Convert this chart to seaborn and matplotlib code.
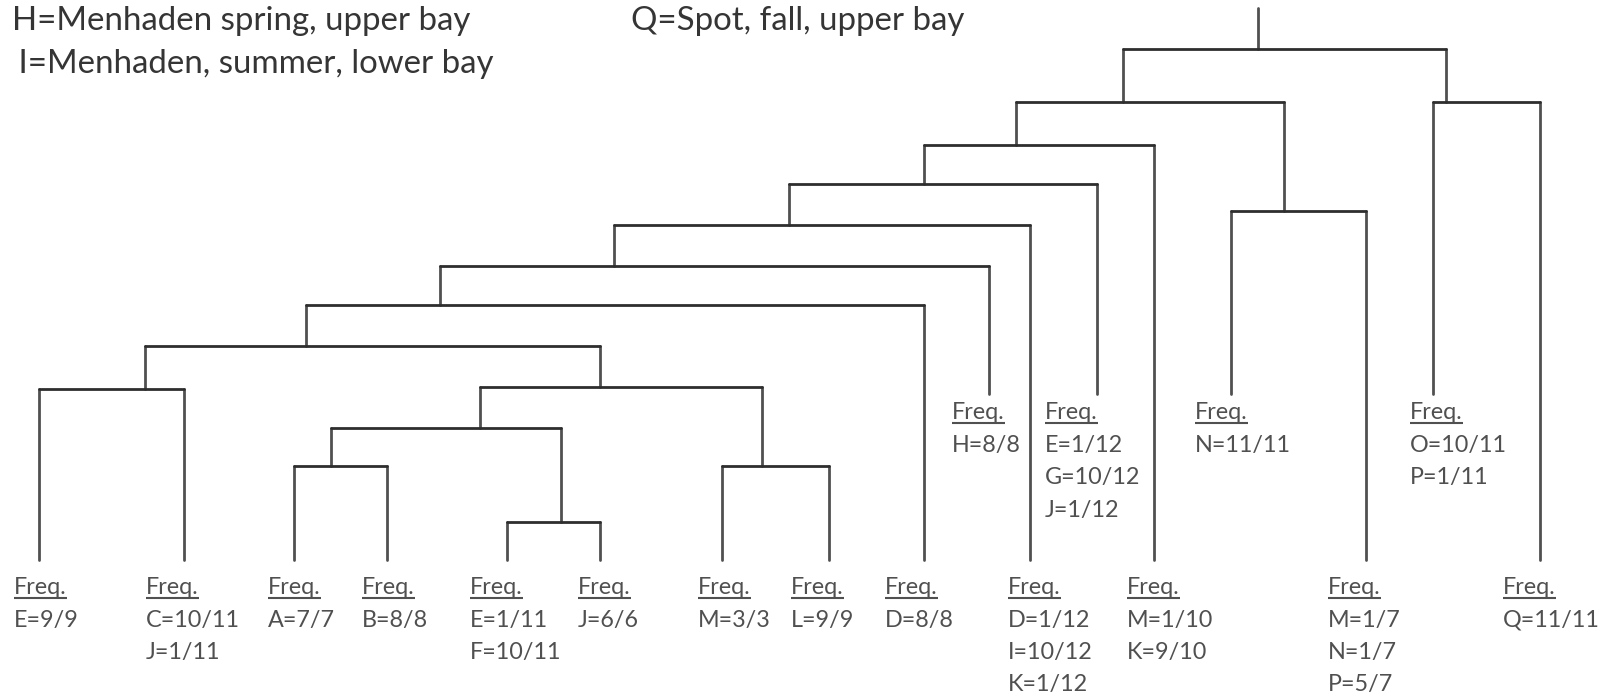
import numpy as np
import pandas as pd
import matplotlib
matplotlib.use("Agg")
import matplotlib.pyplot as plt
import seaborn as sns

# ---------------- data ----------------
leaf_labels = [
    ["E=9/9"],
    ["C=10/11", "J=1/11"],
    ["A=7/7"],
    ["B=8/8"],
    ["E=1/11", "F=10/11"],
    ["J=6/6"],
    ["M=3/3"],
    ["L=9/9"],
    ["D=8/8"],
    ["D=1/12", "I=10/12", "K=1/12"],
    ["M=1/10", "K=9/10"],
    ["M=1/7", "N=1/7", "P=5/7"],
    ["Q=11/11"],
    ["H=8/8"],
    ["E=1/12", "G=10/12", "J=1/12"],
    ["N=11/11"],
    ["O=10/11", "P=1/11"],
]
# leaf positions along the horizontal axis and the level where each leaf ends
leaf_x = [39, 184, 294, 387, 507, 600, 722, 829, 924, 1030, 1154, 1366, 1540,
          989, 1097, 1231, 1433]
leaf_level = [560] * 13 + [394] * 4
# left edge of each label block and the baseline of its first line
label_x = [14, 146, 268, 362, 470, 578, 698, 791, 885, 1008, 1127, 1328, 1503,
           952, 1045, 1195, 1410]
label_top = [594] * 13 + [419] * 4

# merges: node ids 0..16 are leaves; merge k creates node 17+k
merge_left = [0, 2, 4, 18, 6, 20, 17, 23, 24, 25, 26, 27, 15, 28, 16, 30]
merge_right = [1, 3, 5, 19, 7, 21, 22, 8, 13, 9, 14, 10, 11, 29, 12, 31]
merge_level = [389, 466, 522, 428, 466, 387, 346, 305, 266, 225, 184, 145,
               211, 102, 102, 49]
merge_x = [145, 331, 561, 480, 762, 600, 306, 440, 614, 789, 924, 1016,
           1284, 1123, 1446, 1258]
root_top = 8

legend_lines = ["H=Menhaden spring, upper bay", " I=Menhaden, summer, lower bay"]
legend_q = "Q=Spot, fall, upper bay"

# ---------------- build segments ----------------
n_leaf = len(leaf_x)
node_x = list(leaf_x) + list(merge_x)
node_level = list(leaf_level) + list(merge_level)
parent_level = [None] * len(node_x)
for k, (a, b) in enumerate(zip(merge_left, merge_right)):
    parent_level[a] = merge_level[k]
    parent_level[b] = merge_level[k]
parent_level[-1] = root_top

rows = []
seg = 0
for i in range(len(node_x)):
    rows.append((seg, "v", node_x[i], node_level[i]))
    rows.append((seg, "v", node_x[i], parent_level[i]))
    seg += 1
for k, (a, b) in enumerate(zip(merge_left, merge_right)):
    rows.append((seg, "h", node_x[a], merge_level[k]))
    rows.append((seg, "h", node_x[b], merge_level[k]))
    seg += 1
df = pd.DataFrame(rows, columns=["seg", "kind", "x", "y"])

# ---------------- plot ----------------
sns.set_theme(style="white")
plt.rcParams["font.family"] = ["Lato", "DejaVu Sans"]

W, H = 1604, 694
fig = plt.figure(figsize=(W / 100, H / 100), dpi=100)
ax = fig.add_axes([0, 0, 1, 1])

sns.lineplot(data=df[df.kind == "v"], x="x", y="y", units="seg", estimator=None,
             sort=False, color="#505050", lw=2.0, ax=ax)
sns.lineplot(data=df[df.kind == "h"], x="x", y="y", units="seg", estimator=None,
             sort=False, color="#2e2e2e", lw=2.0, ax=ax)

ax.set_xlim(0, W)
ax.set_ylim(H, 0)
ax.axis("off")

lab_fs = 16.8
line_gap = 32.5
freq_texts = []
for i in range(n_leaf):
    t = ax.text(label_x[i], label_top[i], "Freq.", fontsize=lab_fs, color="#505050",
                ha="left", va="baseline")
    freq_texts.append(t)
    for j, s in enumerate(leaf_labels[i]):
        ax.text(label_x[i], label_top[i] + (j + 1) * line_gap, s, fontsize=lab_fs,
                color="#505050", ha="left", va="baseline")

hdr_fs = 23.8
ax.text(12, 30, legend_lines[0], fontsize=hdr_fs, color="#353535", ha="left", va="baseline")
ax.text(10, 73, legend_lines[1], fontsize=hdr_fs, color="#353535", ha="left", va="baseline")
ax.text(631, 30, legend_q, fontsize=hdr_fs, color="#353535", ha="left", va="baseline")

# underline "Freq." using the rendered text extents
fig.canvas.draw()
r = fig.canvas.get_renderer()
inv = ax.transData.inverted()
for t in freq_texts:
    bb = t.get_window_extent(renderer=r)
    (x0, _), (x1, _) = inv.transform([[bb.x0, bb.y0], [bb.x1, bb.y0]])
    y = t.get_position()[1] + 3.5
    ax.plot([x0, x1], [y, y], color="#505050", lw=1.5, solid_capstyle="butt")

fig.savefig("out.png", dpi=100, facecolor="white")
